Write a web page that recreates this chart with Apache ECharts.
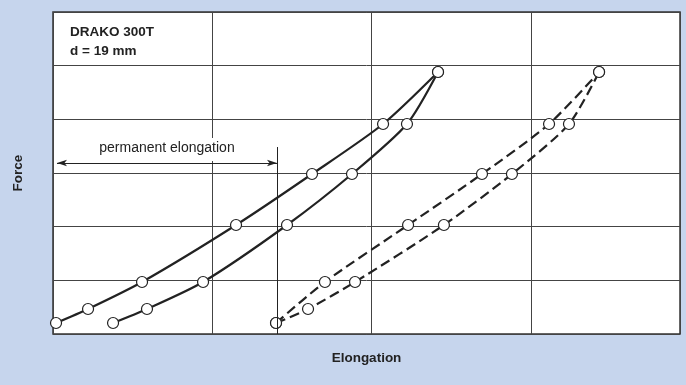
<!DOCTYPE html>
<html>
<head>
<meta charset="utf-8">
<script src="https://cdn.jsdelivr.net/npm/echarts@6/dist/echarts.min.js"></script>
<style>
html,body{margin:0;padding:0;background:#c6d5ed;}
#c{width:686px;height:385px;}
</style>
</head>
<body>
<div id="c"></div>
<script>
// Elongation in grid units, Force in grid units
const loadX   = [0.019, 0.220, 0.559, 1.149, 1.626, 2.072, 2.417];
const loadY   = [0.205, 0.466, 0.969, 2.031, 2.981, 3.913, 4.882];
const unloadX = [0.377, 0.590, 0.942, 1.469, 1.877, 2.222, 2.417];
const unloadY = [0.205, 0.466, 0.969, 2.031, 2.981, 3.913, 4.882];
const reloadX = [1.400, 1.707, 2.229, 2.693, 3.114, 3.428];
const reloadY = [0.205, 0.969, 2.031, 2.981, 3.913, 4.882];
const relaxX  = [1.400, 1.601, 1.896, 2.454, 2.881, 3.239, 3.428];
const relaxY  = [0.205, 0.466, 0.969, 2.031, 2.981, 3.913, 4.882];
const permStart = 0.025, permEnd = 1.406, permArrowY = 3.186, permTopY = 3.484;
const titleText = 'DRAKO 300T\nd = 19 mm';
const permLabel = 'permanent elongation';

const zip = (xs, ys) => xs.map((x, i) => [x, ys[i]]);
const boldFont = '"Liberation Sans", Arial, sans-serif';

function lineSeries(xs, ys, dashed, extra) {
  return Object.assign({
    type: 'line',
    data: zip(xs, ys),
    smooth: 0.25,
    symbol: 'circle',
    symbolSize: 11,
    showSymbol: true,
    itemStyle: { color: '#fff', borderColor: '#222', borderWidth: 1.2 },
    lineStyle: { color: '#222', width: 2.2, type: dashed ? [10, 5] : 'solid' },
    z: 3,
    animation: false
  }, extra || {});
}

const chart = echarts.init(document.getElementById('c'));
chart.setOption({
  backgroundColor: '#c6d5ed',
  animation: false,
  title: {
    text: titleText,
    left: 65, top: 18,
    textStyle: { fontFamily: boldFont, fontSize: 13.5, fontWeight: 'bold', color: '#222', lineHeight: 19 }
  },
  grid: {
    left: 53, top: 12, right: 6, bottom: 51,
    show: true, backgroundColor: '#fff', borderColor: '#333', borderWidth: 1.5
  },
  xAxis: {
    type: 'value', min: 0, max: 3.936, interval: 1,
    name: 'Elongation', nameLocation: 'middle', nameGap: 17,
    nameTextStyle: { fontFamily: boldFont, fontSize: 13.5, fontWeight: 'bold', color: '#222' },
    axisLine: { show: false }, axisTick: { show: false }, axisLabel: { show: false },
    splitLine: { show: true, lineStyle: { color: '#444', width: 1 } }
  },
  yAxis: {
    type: 'value', min: 0, max: 6, interval: 1,
    name: 'Force', nameLocation: 'middle', nameGap: 28, nameRotate: 90,
    nameTextStyle: { fontFamily: boldFont, fontSize: 13.5, fontWeight: 'bold', color: '#222' },
    axisLine: { show: false }, axisTick: { show: false }, axisLabel: { show: false },
    splitLine: { show: true, lineStyle: { color: '#444', width: 1 } }
  },
  series: [
    lineSeries(loadX, loadY, false, {
      markLine: {
        silent: true,
        animation: false,
        symbol: ['arrow', 'arrow'],
        symbolSize: [5, 10],
        lineStyle: { color: '#222', width: 1, type: 'solid' },
        label: {
          show: true, position: 'middle', formatter: permLabel, distance: 2,
          fontFamily: '"Liberation Sans", Arial, sans-serif', fontSize: 14, color: '#222',
          backgroundColor: '#fff', padding: [3, 4, 6, 4]
        },
        data: [
          [
            { coord: [permStart, permArrowY] },
            { coord: [permEnd, permArrowY] }
          ],
          [
            { coord: [permEnd, 0], symbol: 'none', label: { show: false } },
            { coord: [permEnd, permTopY], symbol: 'none' }
          ]
        ]
      }
    }),
    lineSeries(unloadX, unloadY, false),
    lineSeries(reloadX, reloadY, true),
    lineSeries(relaxX, relaxY, true)
  ]
});
</script>
</body>
</html>
